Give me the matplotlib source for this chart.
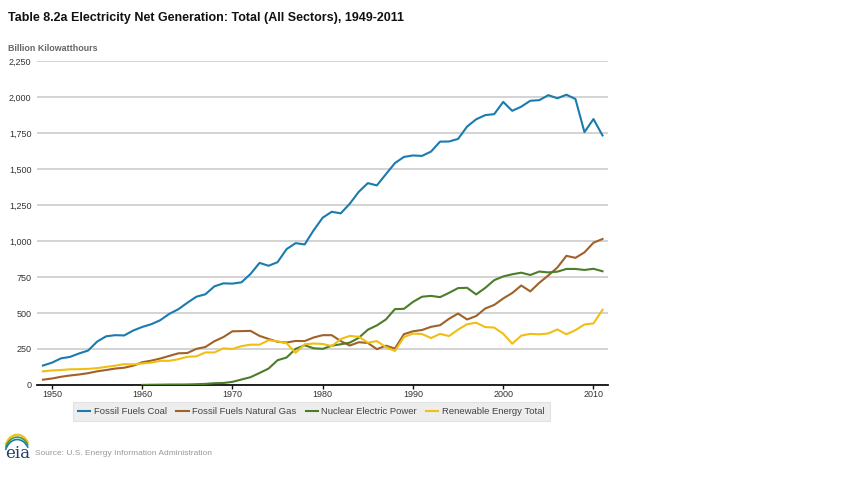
import numpy as np
import matplotlib.pyplot as plt
from matplotlib.ticker import FuncFormatter
from matplotlib.patches import Arc

# =====================================
# DATA (billion kWh)
# =====================================
years = list(range(1949, 2012))

coal = [135, 155, 185, 195, 219, 239, 301, 338, 346, 344,
        378, 403, 422, 450, 494, 526, 571, 613, 630, 685,
        706, 704, 713, 771, 848, 828, 853, 944, 985, 976,
        1075, 1162, 1203, 1192, 1259, 1342, 1402, 1386, 1464, 1541,
        1584, 1594, 1591, 1621, 1690, 1691, 1709, 1795, 1845, 1874,
        1881, 1966, 1904, 1933, 1974, 1978, 2013, 1991, 2016, 1986,
        1756, 1847, 1733]

gas = [37, 45, 57, 66, 73, 82, 95, 104, 114, 120,
       134, 158, 169, 184, 202, 220, 222, 251, 264, 304,
       333, 373, 374, 376, 341, 320, 300, 295, 306, 305,
       330, 346, 346, 305, 274, 297, 292, 249, 273, 253,
       353, 373, 382, 404, 415, 460, 496, 455, 479, 531,
       556, 601, 639, 691, 650, 710, 761, 816, 897, 883,
       921, 988, 1014]

nuclear = [None] * 11 + [
    0.5, 1.7, 2.3, 3.2, 3.3, 3.7, 5.5, 7.7, 12.5, 13.9,
    21.8, 38.1, 54.1, 83.5, 114, 172, 191, 251, 276, 255,
    251, 273, 283, 294, 328, 384, 414, 455, 527, 529,
    577, 613, 619, 610, 640, 673, 675, 629, 674, 728,
    754, 769, 780, 764, 788, 782, 787, 806, 806, 799,
    807, 790]

renewable = [95, 101, 104, 109, 110, 112, 117, 126, 134, 145,
             143, 150, 155, 168, 168, 179, 196, 199, 226, 226,
             255, 250, 270, 280, 280, 311, 303, 290, 224, 283,
             288, 285, 270, 319, 341, 335, 294, 305, 263, 236,
             333, 357, 354, 326, 355, 340, 385, 422, 433, 402,
             399, 356, 287, 343, 355, 352, 358, 386, 352, 381,
             420, 428, 522]

series_names = ["Fossil Fuels Coal", "Fossil Fuels Natural Gas",
                "Nuclear Electric Power", "Renewable Energy Total"]
series_colors = ["#1a7bae", "#a0612a", "#4b7d2a", "#f0bf14"]

y_ticks = [0, 250, 500, 750, 1000, 1250, 1500, 1750, 2000, 2250]
x_ticks = [1950, 1960, 1970, 1980, 1990, 2000, 2010]

# =====================================
# FIGURE
# =====================================
plt.rcParams["font.family"] = ["Liberation Sans", "DejaVu Sans"]

fig = plt.figure(figsize=(8.42, 4.83), dpi=100)
ax = fig.add_axes([0.044, 0.2029, 0.678, 0.6708])

data = [coal, gas, nuclear, renewable]
for vals, name, col in zip(data, series_names, series_colors):
    v = np.array([np.nan if x is None else x for x in vals], dtype=float)
    ax.plot(years, v, color=col, lw=1.5, label=name, zorder=3)

ax.set_xlim(1948.35, 2011.6)
ax.set_ylim(0, 2250)
ax.set_yticks(y_ticks)
ax.set_xticks(x_ticks)
ax.yaxis.set_major_formatter(FuncFormatter(lambda v, p: f"{int(v):,}"))
ax.grid(axis="y", color="#cccccc", lw=1.2, zorder=1)
ax.set_axisbelow(True)

for s in ["top", "right", "left"]:
    ax.spines[s].set_visible(False)
ax.spines["bottom"].set_color("#111111")
ax.spines["bottom"].set_linewidth(1.3)
ax.spines["bottom"].set_zorder(2)

ax.tick_params(axis="y", length=0, pad=4, labelsize=6.5, labelcolor="#333333")
ax.tick_params(axis="x", length=3, width=1, color="#111111", pad=0.5,
               labelsize=6.5, labelcolor="#333333")

# legend
leg = ax.legend(loc="upper left", bbox_to_anchor=(0.063, -0.052), ncol=4,
                fontsize=6.8, frameon=True, fancybox=False, borderaxespad=0,
                handlelength=1.3, handletextpad=0.35, columnspacing=1.0,
                borderpad=0.55)
leg.get_frame().set_facecolor("#e9e9e9")
leg.get_frame().set_edgecolor("#dddddd")
leg.get_frame().set_linewidth(0.8)
for t in leg.get_texts():
    t.set_color("#444444")

# title and units
fig.text(0.0095, 0.963, "Table 8.2a Electricity Net Generation: Total (All Sectors), 1949-2011",
         fontsize=9.0, fontweight="bold", color="#111111", va="center")
fig.text(0.0095, 0.899, "Billion Kilowatthours", fontsize=6.4,
         fontweight="bold", color="#666666", va="center")

# footer: eia logo and source
fig.text(0.006, 0.062, "eia", fontsize=12, family="DejaVu Serif",
         color="#1f3f6e", va="center")
la = fig.add_axes([0.004, 0.065, 0.03, 0.05])
la.set_xlim(0, 1)
la.set_ylim(0, 1)
la.axis("off")
la.add_patch(Arc((0.55, 0.0), 1.0, 1.4, theta1=40, theta2=150, color="#f0bf14", lw=1.5))
la.add_patch(Arc((0.55, -0.1), 1.0, 1.4, theta1=40, theta2=150, color="#4b9a3a", lw=1.2))
la.add_patch(Arc((0.55, -0.2), 1.0, 1.4, theta1=40, theta2=150, color="#1a7bae", lw=1.2))
fig.text(0.042, 0.062, "Source: U.S. Energy Information Administration",
         fontsize=6.0, color="#999999", va="center")

fig.savefig("out.png", dpi=100)
